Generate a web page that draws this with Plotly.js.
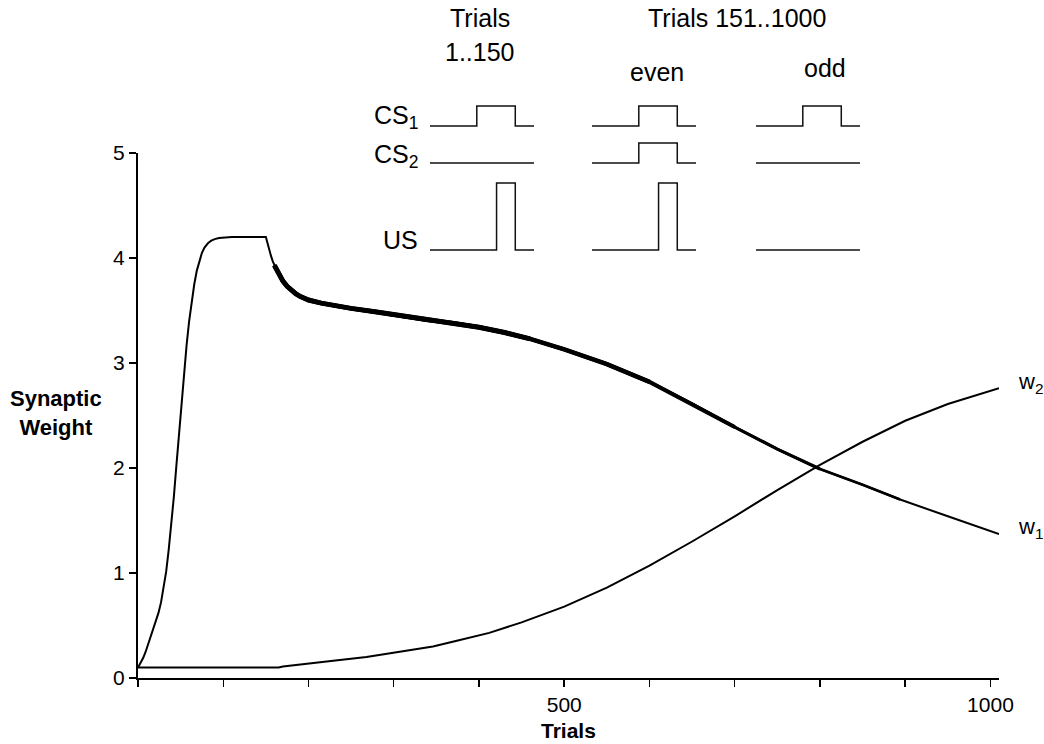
<!DOCTYPE html>
<html>
<head>
<meta charset="utf-8">
<script src="https://cdn.plot.ly/plotly-3.0.1.min.js"></script>
<style>
  html, body { margin: 0; padding: 0; background: #fff; }
  #chart { width: 1044px; height: 744px; }
</style>
</head>
<body>
<div id="chart"></div>
<script>
// Synaptic weights w1 (CS1) and w2 (CS2) over the training trials
const w1Trials = [0, 3, 6, 9, 12, 15, 18, 21, 24, 27, 30, 33, 36, 39, 42, 45, 48, 51, 54, 57, 60, 63, 66, 69, 72, 75, 78, 82, 86, 90, 95, 100, 110, 150,
  152, 154, 156, 158, 160, 163, 166, 170, 175, 180, 185, 190, 200, 215, 230, 250, 276, 300, 338, 370, 400, 430, 460, 500,
  550, 600, 650, 700, 750, 800, 850, 894, 950, 1010];
const w1Values = [0.10, 0.14, 0.19, 0.25, 0.32, 0.40, 0.47, 0.54, 0.62, 0.72, 0.85, 1.01, 1.22, 1.45, 1.72, 2.02, 2.33, 2.63, 2.92, 3.17, 3.40, 3.59, 3.75, 3.88, 3.98, 4.05, 4.10, 4.14, 4.165, 4.18, 4.19, 4.195, 4.20, 4.20,
  4.13, 4.07, 4.02, 3.97, 3.93, 3.88, 3.83, 3.78, 3.73, 3.69, 3.66, 3.635, 3.60, 3.57, 3.545, 3.52, 3.49, 3.46, 3.41, 3.38, 3.34, 3.29, 3.23, 3.13,
  2.99, 2.82, 2.61, 2.39, 2.18, 1.99, 1.84, 1.70, 1.54, 1.37];

const w2Trials = [0, 165, 170, 194, 229, 268, 307, 346, 374, 412, 450, 500, 550, 600, 650, 700, 750, 800, 850, 900, 950, 1010];
const w2Values = [0.10, 0.10, 0.11, 0.13, 0.165, 0.20, 0.25, 0.30, 0.355, 0.43, 0.53, 0.68, 0.86, 1.07, 1.30, 1.54, 1.79, 2.03, 2.25, 2.45, 2.61, 2.76];

const xTickValues = [500, 1000];
const xTickLabels = ['500', '1000'];
const xMinorTicks = [0, 100, 200, 300, 400, 600, 700, 800, 900];
const yTickValues = [0, 1, 2, 3, 4, 5];

// Stimulus schedule: which stimulus is present in each kind of trial
const panelNames = ['1..150', 'even', 'odd'];
const cs1Present = [1, 1, 1];
const cs2Present = [0, 1, 0];
const usPresent = [1, 1, 0];
const csWindow = [45, 82];   // onset / offset, percent of trial time
const usWindow = [64, 82];

// ---- figure geometry (pixels) ----
const FIG_W = 1044, FIG_H = 744;
const M = { l: 138, r: 45, t: 0, b: 66 };
const PW = FIG_W - M.l - M.r, PH = FIG_H - M.t - M.b;
const px = x => (x - M.l) / PW;          // pixel x -> paper
const py = y => 1 - (y - M.t) / PH;      // pixel y -> paper
const FONT = 'Liberation Sans, Arial, Helvetica, sans-serif';
const INK = '#000';

// inset placement
const panelLeft = [430, 592, 756];
const panelWidth = 104;
const rowBase = { cs1: 126, cs2: 163, us: 250 };
const rowAmp = { cs1: 20, cs2: 20, us: 67 };

function pulse(on, win) {
  return { t: [0, win[0], win[0], win[1], win[1], 100], v: [0, 0, on, on, 0, 0] };
}

function segment(ts, vs, lo, hi) {
  const x = [], y = [];
  ts.forEach((t, i) => { if (t >= lo && t <= hi) { x.push(t); y.push(vs[i]); } });
  return { x, y };
}

const traces = [];

// main curves
traces.push({ x: w1Trials, y: w1Values, type: 'scatter', mode: 'lines',
  line: { color: INK, width: 2 }, hoverinfo: 'skip', showlegend: false });
// the trial-to-trial alternation makes w1 look heavier through the middle stretch;
// overlapping copies of the same curve with decreasing stroke taper it off
[[160, 460, 5], [160, 600, 4.5], [160, 700, 4], [160, 800, 3.2], [160, 894, 2.6]].forEach(([lo, hi, wd]) => {
  const s = segment(w1Trials, w1Values, lo, hi);
  traces.push({ x: s.x, y: s.y, type: 'scatter', mode: 'lines',
    line: { color: INK, width: wd }, hoverinfo: 'skip', showlegend: false });
});
traces.push({ x: w2Trials, y: w2Values, type: 'scatter', mode: 'lines',
  line: { color: INK, width: 2 }, hoverinfo: 'skip', showlegend: false });

// inset waveforms, drawn on a pixel-scaled helper axis pair
const rows = [
  { key: 'cs1', present: cs1Present, win: csWindow },
  { key: 'cs2', present: cs2Present, win: csWindow },
  { key: 'us', present: usPresent, win: usWindow }
];
panelNames.forEach((name, p) => {
  rows.forEach(row => {
    const w = pulse(row.present[p], row.win);
    traces.push({
      x: w.t.map(t => panelLeft[p] + t * panelWidth / 100),
      y: w.v.map(v => rowBase[row.key] - v * rowAmp[row.key]),
      xaxis: 'x2', yaxis: 'y2', type: 'scatter', mode: 'lines',
      line: { color: '#111', width: 1.5 }, hoverinfo: 'skip', showlegend: false
    });
  });
});

function label(text, x, y, size, xanchor, yanchor, extra) {
  return Object.assign({
    text, xref: 'paper', yref: 'paper', x: px(x), y: py(y),
    xanchor: xanchor || 'center', yanchor: yanchor || 'middle',
    showarrow: false, font: { family: FONT, size: size, color: INK }
  }, extra || {});
}

const annotations = [
  label('Trials', 480, 18, 25),
  label('1..150', 480, 52, 25),
  label('Trials 151..1000', 737, 18, 25),
  label('even', 657, 72, 25),
  label('odd', 825, 68, 25),
  label('CS<sub>1</sub>', 420, 117, 25, 'right'),
  label('CS<sub>2</sub>', 420, 156, 25, 'right'),
  label('US', 420, 240, 25, 'right'),
  label('w<sub>2</sub>', 1016, 383, 22, 'left'),
  label('w<sub>1</sub>', 1016, 528, 22, 'left'),
  label('<b>Synaptic</b><br><b>Weight</b>', 56, 413, 22, 'center', 'middle'),
  label('<b>Trials</b>', 568, 730, 21, 'center', 'middle')
];

const layout = {
  width: FIG_W, height: FIG_H,
  margin: M,
  paper_bgcolor: '#fff', plot_bgcolor: 'rgba(0,0,0,0)',
  showlegend: false,
  font: { family: FONT, size: 21, color: INK },
  xaxis: {
    range: [0, 1010], domain: [0, 1], anchor: 'y',
    tickmode: 'array', tickvals: xTickValues, ticktext: xTickLabels,
    ticks: 'outside', ticklen: 7, tickwidth: 1.5, tickcolor: INK,
    minor: { tickmode: 'array', tickvals: xMinorTicks, ticks: 'outside', ticklen: 7, tickwidth: 1.5, tickcolor: INK, showgrid: false },
    showline: true, linewidth: 2, linecolor: INK,
    showgrid: false, zeroline: false,
    tickfont: { family: FONT, size: 21, color: INK }
  },
  yaxis: {
    range: [0, 5], domain: [0, (FIG_H - M.b - 153) / PH], anchor: 'x',
    tickmode: 'array', tickvals: yTickValues,
    ticks: 'outside', ticklen: 7, tickwidth: 1.5, tickcolor: INK,
    showline: true, linewidth: 2, linecolor: INK,
    showgrid: false, zeroline: false,
    tickfont: { family: FONT, size: 21, color: INK }
  },
  xaxis2: { range: [M.l, M.l + PW], domain: [0, 1], anchor: 'y2', visible: false, fixedrange: true },
  yaxis2: { range: [M.t + PH, M.t], domain: [0, 1], anchor: 'x2', visible: false, fixedrange: true },
  annotations
};

Plotly.newPlot('chart', traces, layout, { staticPlot: true, displayModeBar: false });
</script>
</body>
</html>
